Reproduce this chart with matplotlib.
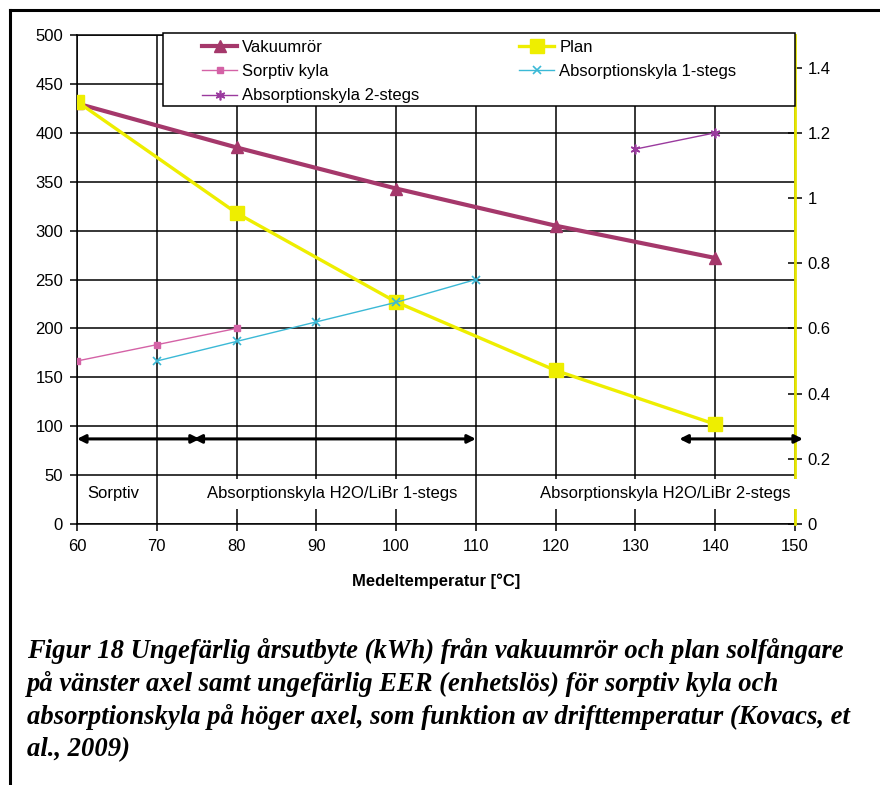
"""Årsutbyte för solfångare och EER för sorptiv/absorptionskyla mot drifttemperatur."""

import matplotlib

matplotlib.use("Agg")

import matplotlib.pyplot as plt
from matplotlib.lines import Line2D
from matplotlib.patches import Rectangle
from matplotlib.ticker import FuncFormatter, MultipleLocator

plt.rcParams["font.family"] = ["Liberation Sans", "DejaVu Sans"]

# Årsutbyte (kWh), vänster axel
collector_temps = [60, 80, 100, 120, 140]
vakuumror = [430, 385, 343, 305, 272]
plan = [432, 318, 227, 157, 102]

# EER (enhetslös), höger axel
sorptiv_temps = [60, 70, 80]
sorptiv_eer = [0.50, 0.55, 0.60]
abs1_temps = [70, 80, 90, 100, 110]
abs1_eer = [0.50, 0.56, 0.62, 0.68, 0.75]
abs2_temps = [130, 140]
abs2_eer = [1.15, 1.20]

# Temperaturområden för respektive kylteknik
range_names = ["Sorptiv", "Absorptionskyla H2O/LiBr 1-stegs",
               "Absorptionskyla H2O/LiBr 2-stegs"]
range_starts = [60, 74.6, 135.5]
range_ends = [75.4, 110, 151]
range_level = 87

caption_lines = [
    "Figur 18 Ungefärlig årsutbyte (kWh) från vakuumrör och plan solfångare",
    "på vänster axel samt ungefärlig EER (enhetslös) för sorptiv kyla och",
    "absorptionskyla på höger axel, som funktion av drifttemperatur (Kovacs, et",
    "al., 2009)",
]

W, H = 880, 785
AX_L, AX_R, AX_T, AX_B = 77, 795, 35, 524


def ax_frac(px, py):
    """Pixel position in the figure -> axes fraction."""
    return (px - AX_L) / (AX_R - AX_L), (AX_B - py) / (AX_B - AX_T)


fig = plt.figure(figsize=(W / 100, H / 100), dpi=100)
ax = fig.add_axes([AX_L / W, 1 - AX_B / H, (AX_R - AX_L) / W, (AX_B - AX_T) / H])
ax2 = ax.twinx()

# vänster axel
ax.set_xlim(60, 150)
ax.set_ylim(0, 500)
ax.xaxis.set_major_locator(MultipleLocator(10))
ax.yaxis.set_major_locator(MultipleLocator(50))
ax.grid(True, color="black", linewidth=1.1)
ax.set_axisbelow(True)
ax.tick_params(axis="both", direction="out", length=5, width=1.1,
               labelsize=12, colors="black", pad=5)
ax.tick_params(axis="x", pad=6)
for side in ("left", "bottom", "top"):
    ax.spines[side].set_linewidth(1.1)
ax.spines["right"].set_visible(False)
ax.set_xlabel("Medeltemperatur [°C]", fontsize=12, fontweight="bold",
              labelpad=14)

ax.plot(collector_temps, vakuumror, color="#A5386B", linewidth=3,
        marker="^", markersize=9, label="Vakuumrör", zorder=3)
ax.plot(collector_temps, plan, color="#EEEE00", linewidth=2.4,
        marker="s", markersize=10, label="Plan", zorder=4)

# höger axel
ax2.set_ylim(0, 1.5)
ax2.yaxis.set_major_locator(MultipleLocator(0.2))
ax2.yaxis.set_major_formatter(FuncFormatter(lambda v, _: f"{v:g}"))
ax2.tick_params(axis="y", direction="inout", length=10, width=1.1,
                labelsize=12, colors="black", pad=4)
ax2.spines["right"].set_color("#E6E600")
ax2.spines["right"].set_linewidth(2)
for side in ("left", "bottom", "top"):
    ax2.spines[side].set_visible(False)

ax2.plot(sorptiv_temps, sorptiv_eer, color="#D462A6", linewidth=1,
         marker="s", markersize=5, label="Sorptiv kyla")
ax2.plot(abs1_temps, abs1_eer, color="#3BB9D6", linewidth=1,
         marker="x", markersize=6, markeredgewidth=1.2,
         label="Absorptionskyla 1-stegs")
ax2.plot(abs2_temps, abs2_eer, color="#9A3A9E", linewidth=1,
         marker=(6, 2, 0), markersize=7, markeredgewidth=1.2,
         label="Absorptionskyla 2-stegs")

# pilar för temperaturområden
for start, end in zip(range_starts, range_ends):
    ax2.annotate("", xy=(start, range_level), xytext=(end, range_level),
                 xycoords=ax.transData, textcoords=ax.transData,
                 arrowprops=dict(arrowstyle="<|-|>", color="black", lw=2.2,
                                 mutation_scale=12, shrinkA=0, shrinkB=0),
                 annotation_clip=False, zorder=5)

label_x = [61.3, 92, 133.7]
label_ha = ["left", "center", "center"]
for name, x, ha in zip(range_names, label_x, label_ha):
    ax2.text(x, 31, name, transform=ax.transData, ha=ha, va="center",
             fontsize=12, zorder=3,
             bbox=dict(boxstyle="square,pad=0.45", facecolor="white",
                       edgecolor="none"))

# legend, två kolumner i en vit ruta
x0, y0 = ax_frac(163, 106)
x1, y1 = ax_frac(AX_R, 33)
ax2.add_patch(Rectangle((x0, y0), x1 - x0, y1 - y0, transform=ax2.transAxes,
                        facecolor="white", edgecolor="black", linewidth=1.1,
                        zorder=9, clip_on=False))

handles = [ax.get_lines()[0], ax2.get_lines()[0], ax2.get_lines()[2],
           ax.get_lines()[1], ax2.get_lines()[1]]
leg = ax2.legend(handles=handles, labels=[h.get_label() for h in handles],
                 ncol=2, loc="upper left", bbox_to_anchor=ax_frac(202, 40),
                 fontsize=12, frameon=False, labelspacing=0.55, borderpad=0,
                 handlelength=2.1, handletextpad=0.3, columnspacing=6.0,
                 borderaxespad=0)
leg.set_zorder(10)

# ram runt figuren
fig.add_artist(Line2D([10 / W, 10 / W], [0, 1 - 10 / H], color="black",
                      linewidth=2.2, transform=fig.transFigure))
fig.add_artist(Line2D([10 / W, 1], [1 - 10 / H, 1 - 10 / H], color="black",
                      linewidth=2.2, transform=fig.transFigure))

# figurtext
for i, line in enumerate(caption_lines):
    fig.text(27 / W, 1 - (651 + i * 33) / H, line,
             fontfamily=["Liberation Serif", "DejaVu Serif"],
             fontweight="bold", fontstyle="italic", fontsize=19.2,
             va="center", ha="left")

fig.savefig("out.png", dpi=100)
plt.close(fig)
